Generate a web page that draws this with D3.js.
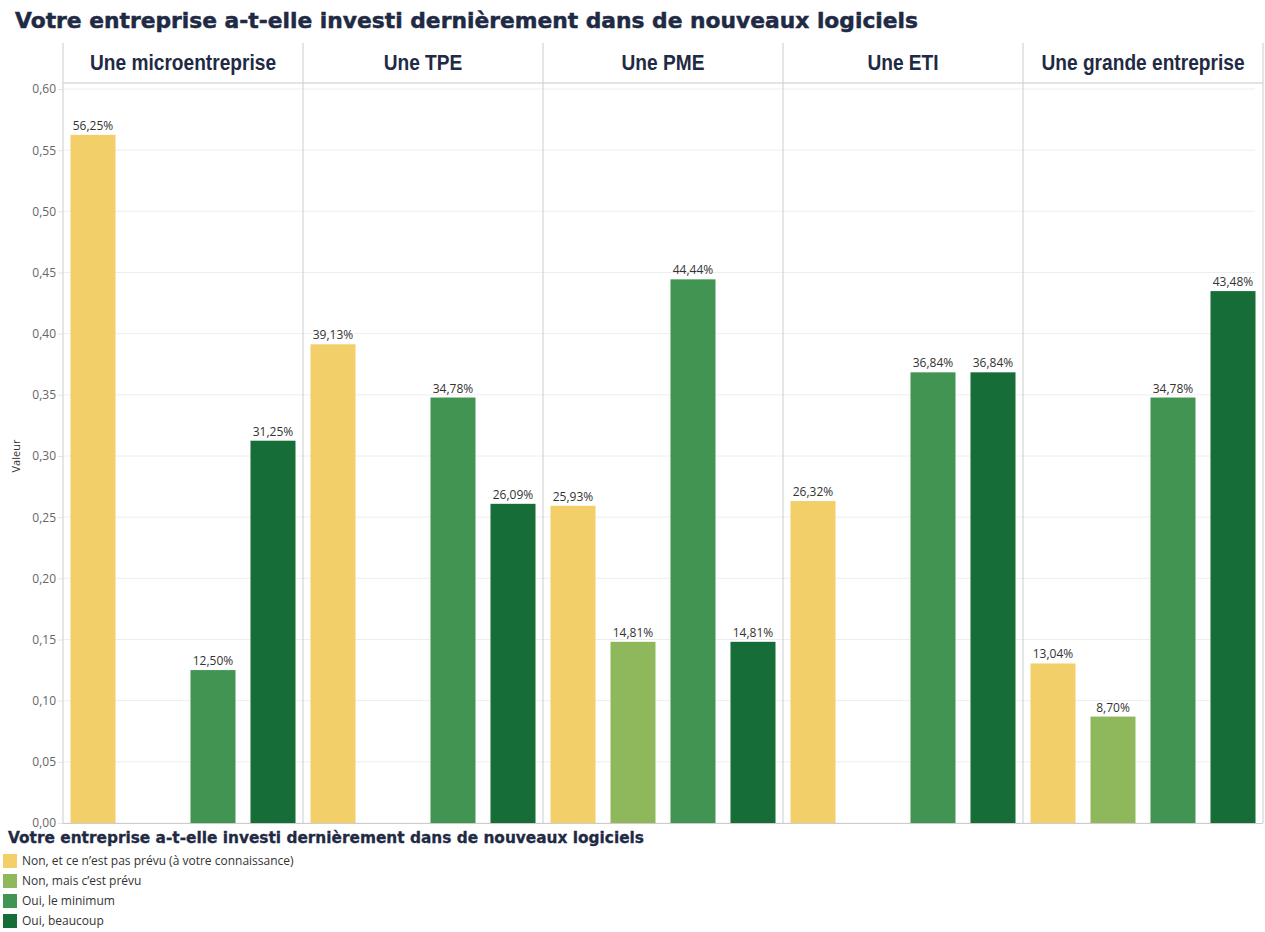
<!DOCTYPE html>
<html>
<head>
<meta charset="utf-8">
<script src="https://cdn.jsdelivr.net/npm/d3@7"></script>
<style>
  body { margin: 0; background: #fff; }
  text { font-family: "Open Sans", "Noto Sans", sans-serif; }
</style>
</head>
<body>
<svg></svg>
<script>
const W = 1265, H = 932;

const title = "Votre entreprise a-t-elle investi dernièrement dans de nouveaux logiciels";
const companies = ["Une microentreprise", "Une TPE", "Une PME", "Une ETI", "Une grande entreprise"];
const answers = ["Non, et ce n\u2019est pas prévu (à votre connaissance)", "Non, mais c\u2019est prévu", "Oui, le minimum", "Oui, beaucoup"];
const colors = ["#f2cf69", "#8fb75b", "#419451", "#176d38"];
// one array per answer, in company order
const nonPasPrevu = [0.5625, 0.3913, 0.2593, 0.2632, 0.1304];
const nonPrevu    = [0,      0,      0.1481, 0,      0.0870];
const ouiMinimum  = [0.1250, 0.3478, 0.4444, 0.3684, 0.3478];
const ouiBeaucoup = [0.3125, 0.2609, 0.1481, 0.3684, 0.4348];
const yTicks = [0, 0.05, 0.10, 0.15, 0.20, 0.25, 0.30, 0.35, 0.40, 0.45, 0.50, 0.55, 0.60];

const series = [nonPasPrevu, nonPrevu, ouiMinimum, ouiBeaucoup];
const rows = [];
companies.forEach((c, ci) => answers.forEach((a, ai) => rows.push({ company: c, answer: a, idx: ai, value: series[ai][ci] })));

const plot = { left: 63, right: 1263, top: 83, bottom: 823, headTop: 43 };
const navy = "#1f2a44";

const svg = d3.select("svg").attr("width", W).attr("height", H);

const fx = d3.scaleBand().domain(companies).range([plot.left, plot.right]);
const x = d3.scaleBand().domain(answers).range([0, fx.bandwidth()]).paddingInner(0.25).paddingOuter(0.125);
const y = d3.scaleLinear().domain([0, 0.6]).range([plot.bottom, 89]);

// title
svg.append("text")
    .attr("x", 15).attr("y", 28)
    .attr("fill", navy)
    .style("font-family", "'DejaVu Sans', sans-serif")
    .style("font-weight", "bold").style("font-size", "22px")
    .style("stroke", navy).style("stroke-width", 0.5)
    .attr("textLength", 903).attr("lengthAdjust", "spacingAndGlyphs")
    .text(title);

// gridlines
svg.append("g").selectAll("line").data(yTicks).enter().append("line")
    .attr("x1", plot.left).attr("x2", plot.right - 8)
    .attr("y1", d => y(d)).attr("y2", d => y(d))
    .attr("stroke", "#eeeeee").attr("stroke-width", 1);

// y axis
const yAxis = svg.append("g")
    .attr("transform", "translate(" + plot.left + ",0)")
    .call(d3.axisLeft(y).tickValues(yTicks).tickSize(5).tickFormat(d => d3.format(".2f")(d).replace(".", ",")));
yAxis.select(".domain").remove();
yAxis.selectAll(".tick line").attr("stroke", "#e4e4e4");
yAxis.selectAll(".tick text").attr("x", -7).attr("fill", "#666").style("font-size", "12px");

svg.append("text")
    .attr("transform", "translate(20," + 456 + ") rotate(-90)")
    .attr("text-anchor", "middle")
    .attr("fill", "#333").style("font-size", "11px")
    .text("Valeur");

// header band
svg.append("line")
    .attr("x1", plot.left).attr("x2", plot.right)
    .attr("y1", plot.top).attr("y2", plot.top)
    .attr("stroke", "#c8c8c8");
svg.append("g").selectAll("line").data(d3.range(companies.length + 1)).enter().append("line")
    .attr("x1", i => plot.left + i * fx.bandwidth()).attr("x2", i => plot.left + i * fx.bandwidth())
    .attr("y1", plot.headTop).attr("y2", plot.bottom)
    .attr("stroke", "#cccccc");
svg.append("line")
    .attr("x1", plot.left).attr("x2", plot.right)
    .attr("y1", plot.bottom + 0.5).attr("y2", plot.bottom + 0.5)
    .attr("stroke", "#cccccc");

svg.append("g").selectAll("text").data(companies).enter().append("text")
    .attr("transform", d => "translate(" + (fx(d) + fx.bandwidth() / 2) + ",70) scale(0.87,1)")
    .attr("text-anchor", "middle")
    .attr("fill", navy)
    .style("font-family", "'Liberation Sans', Arial, sans-serif")
    .style("font-weight", "bold").style("font-size", "22px")
    .text(d => d);

// bars
const bars = svg.append("g").selectAll("g").data(rows.filter(d => d.value > 0)).enter().append("g");
bars.append("rect")
    .attr("x", d => fx(d.company) + x(d.answer))
    .attr("width", x.bandwidth())
    .attr("y", d => y(d.value))
    .attr("height", d => plot.bottom - y(d.value))
    .attr("fill", d => colors[d.idx]);
bars.append("text")
    .attr("x", d => fx(d.company) + x(d.answer) + x.bandwidth() / 2)
    .attr("y", d => y(d.value) - 5)
    .attr("text-anchor", "middle")
    .attr("fill", "#333").style("font-size", "12px")
    .text(d => d3.format(".2f")(d.value * 100).replace(".", ",") + "%");

// legend
svg.append("text")
    .attr("x", 8).attr("y", 843)
    .attr("fill", navy)
    .style("font-family", "'DejaVu Sans', sans-serif")
    .style("font-weight", "bold").style("font-size", "15px")
    .style("stroke", navy).style("stroke-width", 0.3)
    .attr("textLength", 636).attr("lengthAdjust", "spacingAndGlyphs")
    .text(title);

const legend = svg.append("g").selectAll("g").data(answers).enter().append("g")
    .attr("transform", (d, i) => "translate(3," + (854 + i * 20) + ")");
legend.append("rect").attr("width", 14).attr("height", 14).attr("fill", (d, i) => colors[i]);
legend.append("text").attr("x", 19).attr("y", 11)
    .attr("fill", "#333").style("font-size", "12px")
    .text(d => d);
</script>
</body>
</html>
